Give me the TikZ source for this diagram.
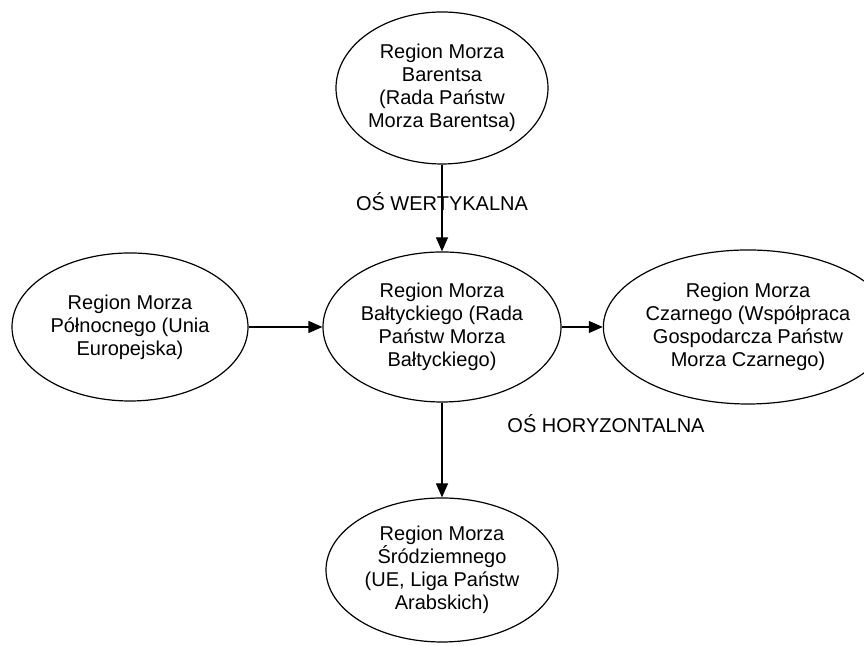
\documentclass[tikz,border=0pt]{standalone}
\usepackage{fontspec}
\setmainfont{Liberation Sans}
\usepackage{tikz}
\usetikzlibrary{arrows.meta}
\usetikzlibrary{shapes.geometric}

\tikzset{
  region/.style={draw, ellipse, line width=0.6pt, inner sep=0pt, align=center,
    font=\fontsize{10}{11.5}\selectfont},
  axis label/.style={font=\fontsize{10}{12}\selectfont},
  link/.style={-{Triangle[length=7pt,width=6pt]}, line width=0.6pt}
}

\begin{document}
\begin{tikzpicture}[x=0.5pt, y=0.5pt]
    \useasboundingbox (0,0) rectangle (864,646);

        \node[region, minimum width=106pt, minimum height=76pt] (bar) at (442,558)
            {Region Morza\\Barentsa\\(Rada Państw\\Morza Barentsa)};
        \node[region, minimum width=119pt, minimum height=75pt] (balt) at (442,319)
            {Region Morza\\Bałtyckiego (Rada\\Państw Morza\\Bałtyckiego)};
        \node[region, minimum width=118pt, minimum height=74pt] (poln) at (130,319)
            {Region Morza\\Północnego (Unia\\Europejska)};
        \node[region, minimum width=112pt, minimum height=77pt] (czar) at (748,319)
            {Region Morza\\Czarnego (Współpraca\\Gospodarcza Państw\\Morza Czarnego)};
        \node[region, minimum width=116pt, minimum height=72pt] (srod) at (442,76)
            {Region Morza\\Śródziemnego\\(UE, Liga Państw\\Arabskich)};

        \node[axis label] (wert) at (442,444) {OŚ WERTYKALNA};
        \node[axis label] (hor) at (606,222) {OŚ HORYZONTALNA};

        % draw the arrows
        \draw[link] (bar) -- (balt);
        \draw[link] (poln) -- (balt);
        \draw[link] (balt) -- (czar);
        \draw[link] (balt) -- (srod);

\end{tikzpicture}
\end{document}
